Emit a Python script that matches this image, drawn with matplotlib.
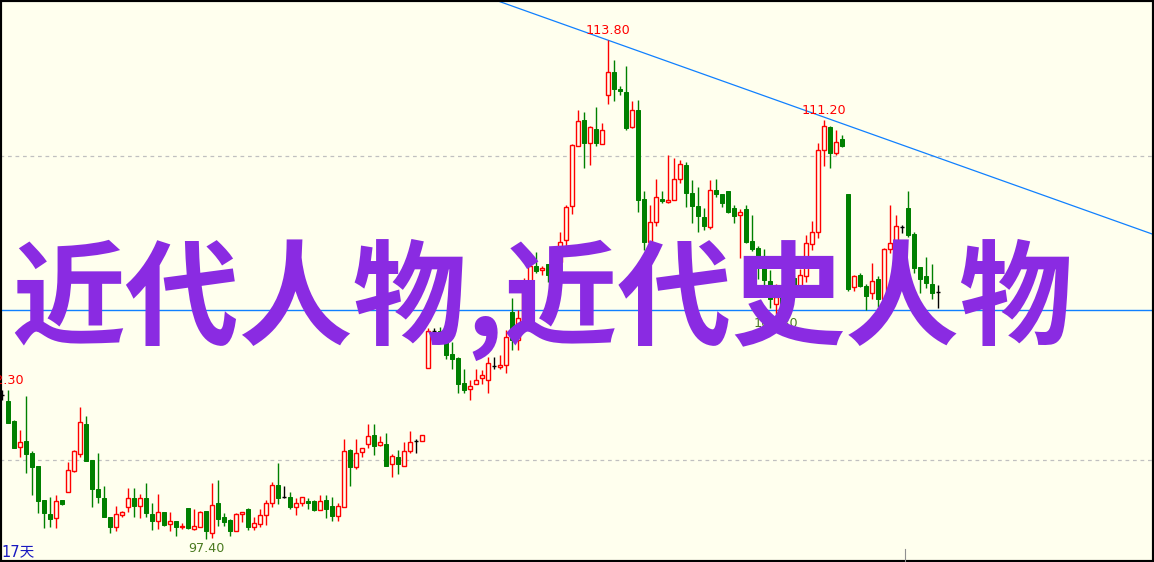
import numpy as np
import matplotlib
matplotlib.use("Agg")
import matplotlib.pyplot as plt

# daily OHLC (157 bars)
opens = [102.14, 101.94, 101.28, 100.42, 100.63, 100.22, 99.80, 98.68, 98.22, 98.08,
         98.68, 98.94, 99.65, 100.20, 101.18, 100.00, 99.04, 98.75, 98.13, 97.81,
         98.19, 98.46, 98.76, 98.50, 98.76, 98.22, 98.00, 98.30, 97.88, 98.00,
         97.81, 98.43, 97.72, 97.81, 98.32, 97.61, 98.58, 98.12, 98.03, 97.67,
         98.21, 98.39, 97.79, 97.88, 98.18, 98.58, 99.17, 98.77, 98.78, 98.46,
         98.58, 98.65, 98.65, 98.36, 98.68, 98.49, 98.17, 98.46, 100.33, 99.78,
         100.27, 100.52, 100.81, 100.48, 100.53, 99.88, 100.10, 99.81, 100.29, 100.63,
         100.61, 103.02, 104.25, 104.24, 103.95, 103.49, 103.37, 102.52, 102.32, 102.49,
         102.69, 102.63, 103.09, 103.07, 103.11, 104.87, 103.95, 104.61, 105.86, 106.39,
         106.24, 106.45, 106.08, 106.51, 107.24, 108.37, 110.34, 111.18, 110.44, 110.88,
         110.39, 112.00, 112.76, 112.21, 112.11, 110.96, 111.51, 108.58, 107.18, 107.82,
         108.59, 108.48, 108.54, 109.23, 109.70, 108.77, 108.36, 107.98, 107.67, 108.88,
         108.75, 108.85, 108.30, 108.05, 108.26, 107.20, 106.96, 106.31, 105.89, 105.12,
         105.36, 105.16, 105.99, 105.70, 106.04, 107.11, 107.51, 110.20, 110.96, 110.09,
         110.55, 108.74, 105.68, 106.08, 105.74, 105.48, 105.95, 105.28, 106.93, 107.18,
         107.67, 108.28, 107.43, 106.34, 106.05, 105.79, 105.52]
highs = [102.30, 102.30, 101.32, 100.99, 102.11, 100.31, 99.80, 98.68, 98.79, 98.85,
         98.68, 99.94, 100.33, 101.75, 101.45, 100.00, 100.22, 99.14, 98.13, 98.49,
         98.33, 99.07, 99.07, 98.88, 99.23, 98.58, 98.88, 98.30, 98.29, 98.00,
         97.92, 98.43, 98.40, 98.32, 98.32, 99.23, 99.34, 98.25, 98.05, 98.27,
         98.28, 98.43, 98.12, 98.39, 98.68, 99.28, 99.89, 99.14, 98.95, 98.75,
         98.78, 98.75, 98.68, 98.85, 98.85, 98.78, 98.58, 100.69, 100.35, 100.69,
         100.41, 101.18, 101.18, 100.79, 100.89, 100.20, 100.33, 100.59, 100.95, 100.69,
         100.81, 104.33, 104.33, 104.37, 104.01, 103.89, 103.40, 102.99, 102.63, 102.99,
         102.96, 103.38, 103.38, 103.46, 104.28, 105.32, 104.93, 105.99, 106.81, 106.84,
         106.39, 106.45, 106.64, 107.51, 108.39, 110.39, 111.51, 111.46, 110.99, 111.62,
         111.08, 113.80, 113.16, 112.30, 112.96, 111.81, 111.84, 108.85, 108.39, 109.23,
         108.85, 110.03, 109.92, 109.87, 109.81, 109.21, 108.99, 108.28, 109.21, 109.23,
         108.75, 108.85, 108.39, 108.25, 108.39, 108.06, 107.03, 106.95, 106.25, 105.79,
         105.53, 105.72, 106.05, 106.28, 107.40, 107.87, 110.43, 111.20, 111.00, 110.86,
         110.69, 108.74, 106.09, 106.14, 105.78, 106.47, 106.04, 106.97, 108.39, 108.06,
         107.73, 108.85, 107.49, 106.34, 106.67, 106.45, 105.76]
lows = [101.97, 101.22, 100.40, 100.11, 99.56, 98.85, 98.25, 97.75, 97.81, 97.77,
        98.51, 98.94, 99.62, 100.11, 99.98, 98.46, 98.58, 98.12, 97.59, 97.67,
        98.12, 98.30, 98.12, 98.10, 98.12, 97.69, 97.72, 97.84, 97.67, 97.50,
        97.72, 97.73, 97.69, 97.81, 97.40, 97.43, 97.83, 97.83, 97.51, 97.67,
        97.97, 97.69, 97.69, 97.79, 97.86, 98.46, 98.55, 98.74, 98.38, 98.20,
        98.50, 98.40, 98.31, 98.36, 98.10, 98.00, 98.00, 98.46, 99.13, 99.70,
        100.11, 100.41, 100.16, 100.47, 99.80, 99.45, 99.55, 99.81, 100.22, 100.22,
        100.61, 103.02, 104.14, 103.84, 103.32, 102.99, 102.19, 102.19, 101.97, 102.49,
        102.49, 102.21, 102.98, 102.98, 102.87, 103.62, 103.62, 104.44, 105.59, 106.14,
        106.08, 105.87, 105.92, 106.27, 107.02, 108.08, 110.34, 109.62, 109.70, 110.34,
        110.39, 111.72, 111.81, 112.01, 110.86, 110.93, 108.17, 106.91, 107.18, 107.71,
        108.46, 108.44, 108.54, 109.12, 108.33, 107.79, 107.51, 107.57, 107.60, 108.66,
        108.33, 108.14, 107.79, 106.66, 107.13, 106.87, 105.94, 105.76, 104.99, 104.80,
        104.87, 105.00, 105.59, 105.68, 105.87, 106.90, 107.30, 109.67, 109.62, 110.03,
        110.30, 105.57, 105.56, 105.68, 104.93, 105.30, 105.04, 105.26, 106.82, 107.18,
        107.48, 107.35, 106.16, 105.50, 105.65, 105.28, 105.01]
closes = [102.14, 101.23, 100.41, 100.59, 100.19, 99.78, 98.66, 98.27, 98.07, 98.64,
          98.55, 99.67, 100.30, 101.25, 99.98, 99.04, 98.77, 98.12, 97.79, 98.22,
          98.29, 98.76, 98.50, 98.76, 98.27, 98.00, 98.29, 97.87, 97.98, 97.79,
          97.84, 97.77, 97.84, 98.29, 97.67, 98.52, 98.07, 97.96, 97.67, 98.22,
          98.28, 97.81, 97.93, 98.18, 98.58, 99.17, 98.76, 98.77, 98.46, 98.58,
          98.77, 98.58, 98.36, 98.64, 98.40, 98.17, 98.49, 100.30, 99.78, 100.22,
          100.41, 100.78, 100.46, 100.59, 99.80, 100.12, 99.88, 100.30, 100.59, 100.63,
          100.81, 104.24, 104.25, 103.84, 103.45, 103.32, 102.50, 102.30, 102.43, 102.63,
          102.81, 103.18, 103.09, 103.11, 104.06, 103.95, 104.67, 105.76, 106.38, 106.23,
          106.33, 106.08, 106.51, 107.18, 108.33, 110.36, 111.16, 110.44, 110.94, 110.44,
          110.84, 112.76, 112.19, 112.13, 110.93, 111.51, 108.55, 107.18, 107.82, 108.64,
          108.53, 108.54, 109.23, 109.73, 108.77, 108.37, 108.04, 107.71, 108.88, 108.74,
          108.46, 108.17, 108.04, 108.15, 107.18, 106.95, 106.64, 105.92, 105.30, 105.37,
          105.10, 105.59, 105.76, 106.07, 107.13, 107.50, 110.20, 110.99, 110.09, 110.45,
          110.34, 105.62, 106.04, 105.72, 105.39, 105.88, 105.28, 106.93, 107.13, 107.70,
          107.67, 107.40, 106.33, 105.95, 105.83, 105.50, 105.52]

grid_levels = [100, 110]
hline_level = 104.93
trend_x = [90, 190]
trend_y = [114.58, 107.55]
high_marks = [(0, 102.30), (101, 113.80), (137, 111.20)]
low_marks = [(34, 97.40), (129, 104.80)]
period_label = "17天"
cursor_idx = 150.45
overlay = "近代人物,近代史人物"

bg = "#ffffee"
red = "#ff0000"
green = "#008000"
px = 0.72  # one pixel in points

o = np.array(opens); h = np.array(highs); l = np.array(lows); c = np.array(closes)
x = np.arange(len(c))
up = c > o
dn = c < o
flat = c == o

fig = plt.figure(figsize=(11.54, 5.62), dpi=100)
fig.patch.set_facecolor(bg)
ax = fig.add_axes([0, 0, 1, 1])
ax.set_facecolor(bg)

for lv in grid_levels:
    ax.axhline(lv, color="#c0c0c0", lw=0.9, ls=(0, (3, 3)), zorder=1)
ax.axhline(hline_level, color="#1080ff", lw=1.0, zorder=1)
ax.axline((trend_x[0], trend_y[0]), (trend_x[1], trend_y[1]), color="#1080ff", lw=0.9, zorder=1)

# wicks
ax.vlines(x[up], l[up], h[up], color=red, lw=1.4 * px, zorder=2)
ax.vlines(x[dn], l[dn], h[dn], color=green, lw=1.4 * px, zorder=2)
ax.vlines(x[flat], l[flat], h[flat], color="black", lw=1.4 * px, zorder=2)

# bodies
w = 0.7
ax.bar(x[up], c[up] - o[up], bottom=o[up], width=w, facecolor=bg,
       edgecolor=red, linewidth=1.4 * px, zorder=3)
ax.bar(x[dn], o[dn] - c[dn], bottom=c[dn], width=w, facecolor=green,
       edgecolor=green, linewidth=1.0 * px, zorder=3)
ax.hlines(o[flat], x[flat] - w / 2, x[flat] + w / 2, color="black", lw=1.4 * px, zorder=3)

for i, v in high_marks:
    ax.annotate(f"{v:.2f}", (i, v), xytext=(0, 3), textcoords="offset pixels",
                ha="center", va="bottom", color=red, fontsize=9.2, zorder=4)
for i, v in low_marks:
    ax.annotate(f"{v:.2f}", (i, v), xytext=(0, -3), textcoords="offset pixels",
                ha="center", va="top", color="#4a7a20", fontsize=9.2, zorder=4)

ax.text(0.001, 0.019, period_label, transform=ax.transAxes, ha="left", va="center",
        color="#1818c0", fontsize=10.5, family=["DejaVu Sans", "Noto Sans CJK SC"], zorder=4)
ax.axvline(cursor_idx, ymin=0.0, ymax=0.024, color="#909090", lw=0.8, zorder=4)

ax.text(0.010, 0.466, overlay, transform=ax.transAxes, ha="left", va="center",
        color="#8a2be2", fontsize=82, fontweight="bold",
        family=["Noto Sans CJK SC", "DejaVu Sans"], zorder=10)

ax.set_xlim(-0.383, 191.95)
ax.set_ylim(96.645, 115.132)
ax.set_xticks([])
ax.set_yticks([])
for s in ax.spines.values():
    s.set_linewidth(3)
    s.set_color("black")

fig.savefig("out.png", dpi=100, facecolor=bg)
